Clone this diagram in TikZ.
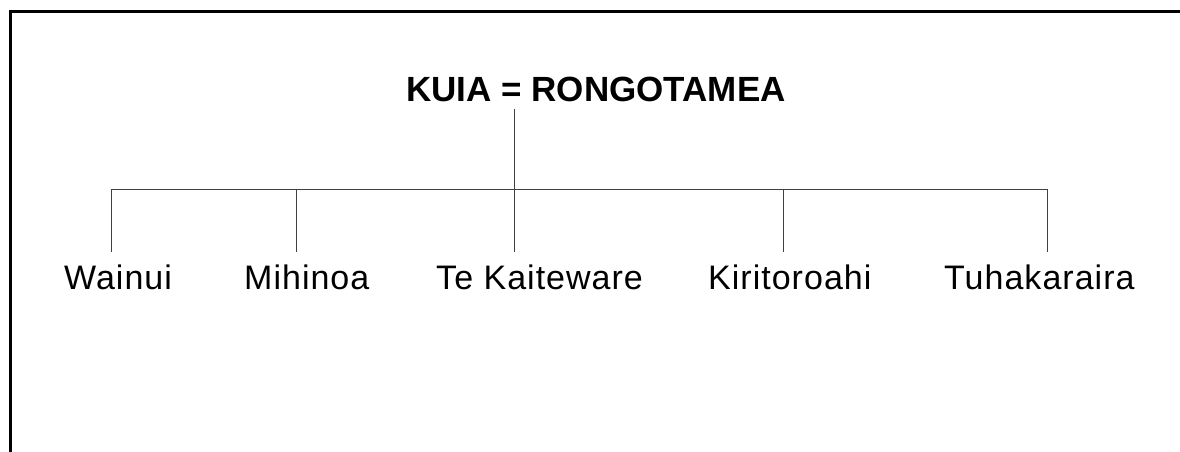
\documentclass[tikz,border=0pt]{standalone}
\usepackage{fontspec}
\setmainfont{Liberation Sans}
\newfontfamily\childfont[LetterSpace=3]{Liberation Sans}
\begin{document}
\begin{tikzpicture}[x=1pt,y=-1pt,
  frame/.style={line width=2.5pt, line cap=rect},
  link/.style={line width=0.9pt, black!75},
  parent/.style={font=\fontsize{35}{40}\selectfont\bfseries, anchor=base west, inner sep=0pt},
  child/.style={font=\childfont\fontsize{34}{40}\selectfont, anchor=base west, inner sep=0pt}]
\useasboundingbox (0,0) rectangle (1180,452);
\draw[frame] (10.5,460) -- (10.5,11.5) -- (1190,11.5);

\node[parent] (couple) at (406,101) {KUIA = RONGOTAMEA};

\node[child] (wainui)  at (64,289)  {Wainui};
\node[child] (mihinoa) at (244,289) {Mihinoa};
\node[child] (kaite)   at (436,289) {Te Kaiteware};
\node[child] (kiri)    at (708,289) {Kiritoroahi};
\node[child] (tuha)    at (944,289) {Tuhakaraira};

\coordinate (drop) at (514,109);
\coordinate (mid)  at (514,189);
\coordinate (bw) at (111,189);
\coordinate (bm) at (296,189);
\coordinate (bk) at (783,189);
\coordinate (bt) at (1047,189);
\coordinate (ew) at (111,252);
\coordinate (em) at (296,252);
\coordinate (ec) at (514,252);
\coordinate (ek) at (783,252);
\coordinate (et) at (1047,252);

\draw[link] (drop) -- (mid);
\draw[link] (bw) -- (bt);
\draw[link] (bw) -- (ew);
\draw[link] (bm) -- (em);
\draw[link] (mid) -- (ec);
\draw[link] (bk) -- (ek);
\draw[link] (bt) -- (et);
\end{tikzpicture}
\end{document}
